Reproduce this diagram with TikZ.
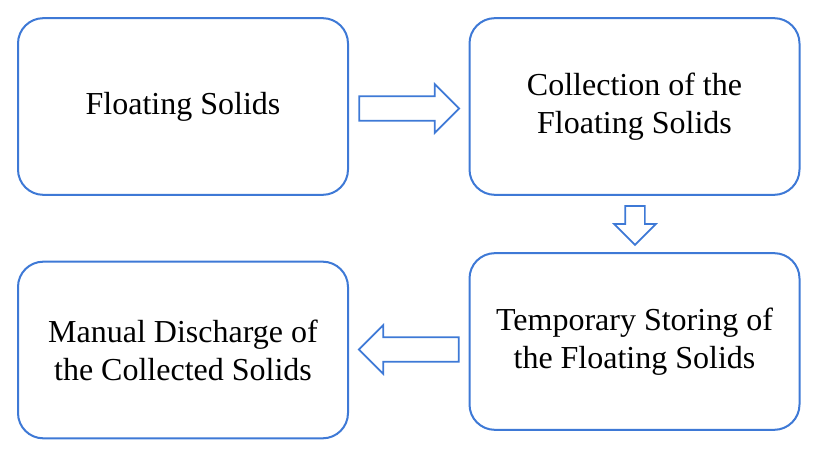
\documentclass[tikz,border=0pt]{standalone}
\usepackage{fontspec}
\setmainfont{Liberation Serif}
\usetikzlibrary{shapes.arrows}
\definecolor{edgeblue}{RGB}{62,121,214}
\tikzset{
  stagebox/.style={draw=edgeblue,line width=1.5pt,fill=white,rounded corners=19pt,
                   minimum width=247.5pt,minimum height=132.5pt,align=center,
                   font=\fontsize{24}{28.5}\selectfont},
  blockarrow/.style={single arrow,draw=edgeblue,line width=1.3pt,fill=white,
                     inner sep=0pt,inner ysep=8.6pt,single arrow head extend=9pt,
                     minimum height=75pt},
}
\begin{document}
\begin{tikzpicture}[x=0.75pt,y=-0.75pt]
  \path[use as bounding box] (0,0) rectangle (831,449);

  \node[stagebox] (solids) at (183,106.5) {Floating Solids};
  \node[stagebox] (collect) at (634.5,106.5) {Collection of the\\Floating Solids};
  \node[stagebox] (store) at (634.5,341.5) {Temporary Storing of\\the Floating Solids};
  \node[stagebox] (discharge) at (183,350) {Manual Discharge of\\the Collected Solids};

  \node[blockarrow] (toCollect) at (403,108.5) {};
  \node[blockarrow,rotate=-90,inner ysep=6.75pt,single arrow head extend=8.25pt,
        minimum height=29.25pt] (toStore) at (635,220.5) {};
  \node[blockarrow,rotate=180] (toDischarge) at (415,349.5) {};
\end{tikzpicture}
\end{document}
